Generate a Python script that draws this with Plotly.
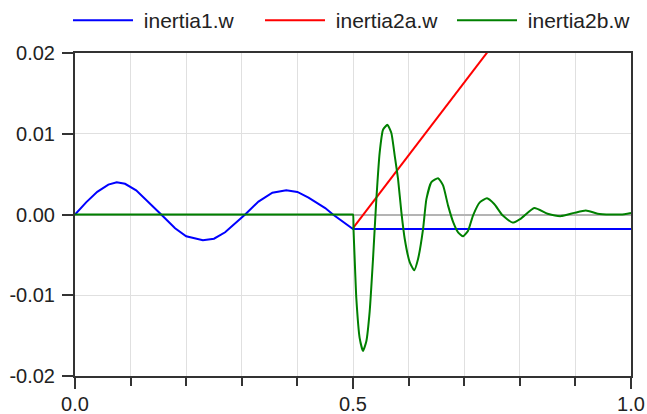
import plotly.graph_objects as go

# ---- data ----
t_inertia1 = [0.0, 0.02, 0.04, 0.06, 0.075, 0.09, 0.11, 0.13, 0.155, 0.18, 0.20, 0.23,
              0.25, 0.27, 0.29, 0.306, 0.33, 0.355, 0.38, 0.40, 0.42, 0.45, 0.464, 0.48, 0.50, 1.0]
w_inertia1 = [0.0, 0.0015, 0.0028, 0.0037, 0.0040, 0.0038, 0.0030, 0.0017, 0.0, -0.0017,
              -0.0027, -0.0032, -0.0030, -0.0022, -0.0010, 0.0, 0.0016, 0.0027, 0.0030, 0.0028,
              0.0021, 0.0008, 0.0, -0.0008, -0.0018, -0.0018]

t_inertia2a = [0.5, 1.0]
w_inertia2a = [-0.0017, 0.0434]

t_inertia2b = [0.0, 0.1, 0.2, 0.3, 0.4, 0.45, 0.48, 0.49, 0.495, 0.498, 0.5, 0.501, 0.503,
               0.506, 0.512, 0.518, 0.524, 0.530, 0.536, 0.542, 0.548, 0.554,
               0.562, 0.569, 0.575, 0.581, 0.587, 0.593, 0.602, 0.610, 0.617, 0.626, 0.632,
               0.641, 0.653, 0.662, 0.671, 0.680, 0.689, 0.698, 0.707, 0.716, 0.728, 0.741,
               0.754, 0.769, 0.787, 0.802, 0.826, 0.850, 0.874, 0.898, 0.919, 0.940, 0.964,
               0.982, 1.0]
w_inertia2b = [0.0, 0.0, 0.0, 0.0, 0.0, 0.0, 0.0, 0.0, 0.0, 0.0, 0.0, -0.0020, -0.0055,
               -0.0104, -0.0153, -0.0169, -0.0157, -0.0120, -0.0055, 0.0019,
               0.0077, 0.0105, 0.0111, 0.0101, 0.0073, 0.0044, 0.0003, -0.0030, -0.0059,
               -0.0069, -0.0055, -0.0018, 0.0019, 0.0040, 0.0045, 0.0036, 0.0011, -0.0009,
               -0.0022, -0.0027, -0.0020, -0.0001, 0.0015, 0.0020, 0.0013, -0.0001, -0.0010,
               -0.0005, 0.0008, 0.0001, -0.0002, 0.0002, 0.0005, 0.0001, 0.0, 0.0, 0.0002]

x_tickvals = [0.0, 0.5, 1.0]
x_ticktext = ["0.0", "0.5", "1.0"]
y_tickvals = [-0.02, -0.01, 0.0, 0.01, 0.02]
y_ticktext = ["-0.02", "-0.01", "0.00", "0.01", "0.02"]

series = [
    ("inertia1.w", t_inertia1, w_inertia1, "#0000ff", "linear"),
    ("inertia2a.w", t_inertia2a, w_inertia2a, "#ff0000", "linear"),
    ("inertia2b.w", t_inertia2b, w_inertia2b, "#008000", "spline"),
]

NB = "\u00a0"  # small gap between legend line and label

fig = go.Figure()
for name, t, w, c, shape in series:
    fig.add_trace(go.Scatter(x=t, y=w, mode="lines", name=NB + name,
                             line=dict(color=c, width=2, shape=shape, smoothing=0.5)))

FONT = "Liberation Sans, Arial, sans-serif"
axis_font = dict(family=FONT, size=20, color="#222222")

fig.update_layout(
    width=647, height=414,
    margin=dict(l=75, r=16, t=53, b=38, autoexpand=False),
    paper_bgcolor="white", plot_bgcolor="white",
    showlegend=True,
    legend=dict(orientation="h", xref="paper", yref="paper",
                x=-0.0126, xanchor="left", y=1.164, yanchor="top",
                font=dict(family=FONT, size=21, color="#222222"),
                itemwidth=60, entrywidth=117, bgcolor="rgba(0,0,0,0)"),
    xaxis=dict(range=[0, 1], tickvals=x_tickvals, ticktext=x_ticktext, automargin=False,
               showline=True, mirror=True, linecolor="#333333", linewidth=2,
               ticks="outside", ticklen=11, tickwidth=2, tickcolor="#333333",
               ticklabelstandoff=-2,
               showgrid=True, gridcolor="#e0e0e0", gridwidth=1, zeroline=False,
               minor=dict(dtick=0.1, ticks="outside", ticklen=8, tickwidth=2,
                          tickcolor="#333333", showgrid=True, gridcolor="#e0e0e0", gridwidth=1),
               tickfont=axis_font),
    yaxis=dict(range=[-0.02, 0.02], tickvals=y_tickvals, ticktext=y_ticktext, automargin=False,
               showline=True, mirror=True, linecolor="#333333", linewidth=2,
               ticks="outside", ticklen=11, tickwidth=2, tickcolor="#333333",
               ticklabelstandoff=3,
               showgrid=True, gridcolor="#e0e0e0", gridwidth=1,
               zeroline=True, zerolinecolor="#b4b4b4", zerolinewidth=1.5,
               tickfont=axis_font),
)

fig.write_html("out.html")
